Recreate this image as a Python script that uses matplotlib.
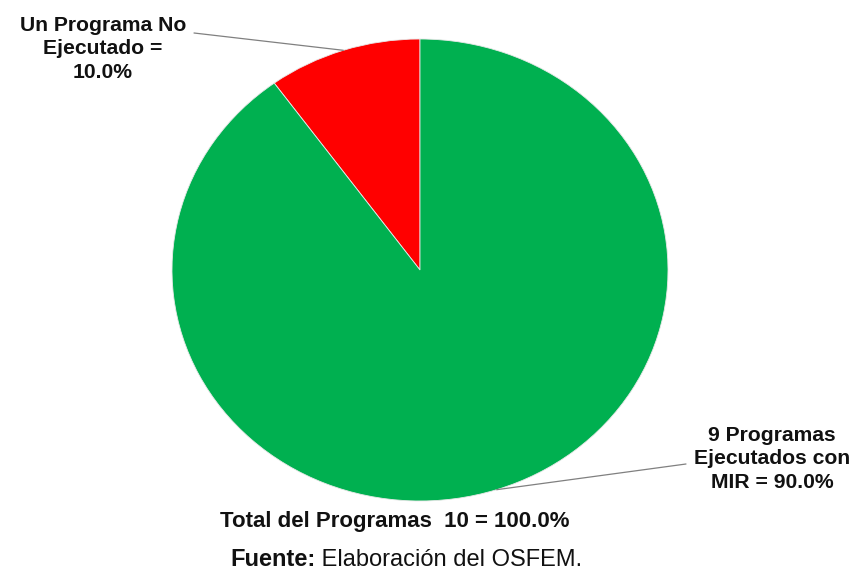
import matplotlib
matplotlib.use("Agg")
import matplotlib.pyplot as plt
import numpy as np

# Data
categories = ["Un Programa No\nEjecutado =\n10.0%", "9 Programas\nEjecutados con\nMIR = 90.0%"]
values = [1, 9]
colors = ["#FF0000", "#00B050"]
total_label = "Total del Programas  10 = 100.0%"
source_bold = "Fuente:"
source_rest = " Elaboración del OSFEM."

W, H = 862, 571
fig = plt.figure(figsize=(W / 100, H / 100), dpi=100)
fig.patch.set_facecolor("white")

cx, cy, rx, ry = 420, 270, 248, 231
ax = fig.add_axes([(cx - rx) / W, (H - cy - ry) / H, 2 * rx / W, 2 * ry / H])
wedges, _ = ax.pie(values, colors=colors, startangle=90, counterclock=True,
                   wedgeprops=dict(edgecolor="#e8e8e8", linewidth=0.6))
ax.set_aspect("auto")
ax.set_xlim(-1, 1)
ax.set_ylim(-1, 1)
ax.axis("off")

font = ["Liberation Sans", "DejaVu Sans"]
lab_size = 15.2

# label positions (pixel, from top) and leader anchors
label_pos = [(103, 49), (772, 459)]
leader_start = [(194, 33), (686, 464)]
for w, lab, (lx, ly), (sx, sy) in zip(wedges, categories, label_pos, leader_start):
    mid = np.deg2rad((w.theta1 + w.theta2) / 2)
    ex, ey = np.cos(mid), np.sin(mid)
    fig.text(lx / W, 1 - ly / H, lab, ha="center", va="center", fontsize=lab_size,
             fontweight="bold", family=font, linespacing=1.28, color="#111111")
    ax.annotate("", xy=(ex, ey), xycoords="data",
                xytext=(sx, H - sy), textcoords="figure pixels",
                arrowprops=dict(arrowstyle="-", color="#808080", lw=0.9,
                                shrinkA=0, shrinkB=0))

fig.text(395 / W, 1 - 522 / H, total_label, ha="center", va="center",
         fontsize=16, fontweight="bold", family=font, color="#111111")

t1 = fig.text(230 / W, 5 / H, source_bold, ha="left", va="baseline",
              fontsize=17, fontweight="bold", family=font, color="#111111")
plt.annotate(source_rest, xy=(1, 0), xycoords=t1, ha="left", va="bottom",
             fontsize=17, family=font, color="#111111")

fig.savefig("out.png", dpi=100, facecolor="white")
